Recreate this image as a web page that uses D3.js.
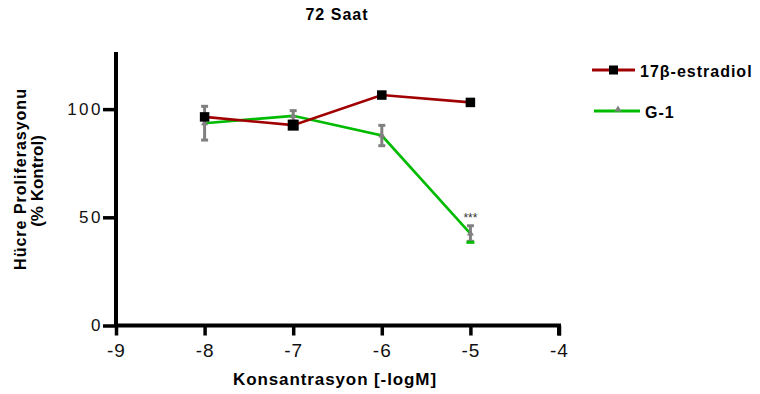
<!DOCTYPE html>
<html><head><meta charset="utf-8">
<script src="https://cdn.jsdelivr.net/npm/d3@7"></script>
<style>body{margin:0;background:#fff}svg{display:block}text{font-family:"Liberation Sans",Arial,sans-serif}</style>
</head><body><svg width="760" height="394"></svg>
<script>
const xValues = [-8, -7, -6, -5];
const estradiolMean = [96.4, 92.6, 106.5, 103.1];
const g1Mean = [93.5, 96.9, 87.8, 42.5];
const g1Err = [7.8, 2.4, 4.7, 3.6];
const xTicks = [-9, -8, -7, -6, -5, -4];
const yTicks = [0, 50, 100];
const seriesNames = ["17β-estradiol", "G-1"];
const significance = ["", "", "", "***"];

const svg = d3.select("svg");
const x = d3.scaleLinear().domain([-9, -4]).range([116, 559]);
const y = d3.scaleLinear().domain([0, 126.4]).range([325.5, 52]);
const red = "#a00000", green = "#00bb00", grey = "#808080";

// axes
const xAxis = svg.append("g").attr("transform", "translate(0,325.5)")
  .call(d3.axisBottom(x).tickValues(xTicks).tickSize(10).tickPadding(8).tickFormat(d => String(d)));
const yAxis = svg.append("g").attr("transform", "translate(116,0)")
  .call(d3.axisLeft(y).tickValues(yTicks).tickSize(13).tickPadding(0));
[xAxis, yAxis].forEach(g => {
  g.select(".domain").attr("stroke", "#000").attr("stroke-width", 4);
  g.selectAll(".tick line").attr("stroke", "#000").attr("stroke-width", 3.5);
  g.selectAll(".tick text").attr("fill", "#111").style("font-family", "Liberation Sans, Arial, sans-serif");
});
xAxis.selectAll(".tick text").style("font-size", "19px").style("letter-spacing", "1px");
yAxis.selectAll(".tick text").style("font-size", "17px").style("letter-spacing", "2.5px");
xAxis.select(".domain").attr("d", `M${x(-9)},0H${x(-4)}V10`);
yAxis.select(".domain").attr("d", `M0,${y(126.4)}V${y(0)}`);

// G-1 line
const line = d3.line().x((d, i) => x(xValues[i])).y(d => y(d));
svg.append("path").datum(g1Mean).attr("d", line).attr("fill", "none").attr("stroke", green).attr("stroke-width", 2.6);
// estradiol line
svg.append("path").datum(estradiolMean).attr("d", line).attr("fill", "none").attr("stroke", red).attr("stroke-width", 2.6);

// G-1 error bars
const eb = svg.append("g").attr("stroke", grey).attr("stroke-width", 3);
g1Mean.forEach((m, i) => {
  const cx = x(xValues[i]);
  eb.append("line").attr("x1", cx).attr("x2", cx).attr("y1", y(m + g1Err[i])).attr("y2", y(m - g1Err[i]));
  [m + g1Err[i], m - g1Err[i]].forEach(v => eb.append("line").attr("x1", cx - 3.5).attr("x2", cx + 3.5).attr("y1", y(v)).attr("y2", y(v)));
  svg.append("path").attr("d", d3.symbol(d3.symbolTriangle, 22)()).attr("transform", `translate(${cx},${y(m)})`).attr("fill", grey);
});
// green base tick under last G-1 point
svg.append("line").attr("x1", x(-5) - 4).attr("x2", x(-5) + 4)
  .attr("y1", y(g1Mean[3] - g1Err[3]) + 1).attr("y2", y(g1Mean[3] - g1Err[3]) + 1)
  .attr("stroke", green).attr("stroke-width", 3);

// estradiol markers
estradiolMean.forEach((m, i) => {
  const s = i === 1 ? 11 : 9.5;
  svg.append("rect").attr("x", x(xValues[i]) - s / 2).attr("y", y(m) - s / 2).attr("width", s).attr("height", s).attr("fill", "#000");
});

// significance
significance.forEach((t, i) => {
  if (t) svg.append("text").attr("x", x(xValues[i])).attr("y", y(g1Mean[i] + g1Err[i]) - 4)
    .attr("text-anchor", "middle").style("font-size", "12px").attr("fill", "#333").text(t);
});

// titles
svg.append("text").attr("x", 337).attr("y", 20).attr("text-anchor", "middle").style("font-size", "16px").style("font-weight", "bold").style("letter-spacing", "1px").text("72 Saat");
svg.append("text").attr("x", 335).attr("y", 385).attr("text-anchor", "middle").style("font-size", "17px").style("font-weight", "bold").style("letter-spacing", "0.9px").text("Konsantrasyon [-logM]");
svg.append("text").attr("transform", "translate(26,179) rotate(-90)").attr("text-anchor", "middle")
  .style("font-weight", "bold").style("font-size", "16px").style("letter-spacing", "1px").text("Hücre Proliferasyonu");
svg.append("text").attr("transform", "translate(43,181) rotate(-90)").attr("text-anchor", "middle")
  .style("font-weight", "bold").style("font-size", "17px").text("(% Kontrol)");

// legend
const lg = [{y: 70, x1: 592, x2: 635, tx: 640, c: red, name: seriesNames[0], sym: "sq"},
            {y: 111, x1: 594, x2: 640, tx: 645, c: green, name: seriesNames[1], sym: "tri"}];
lg.forEach(d => {
  svg.append("line").attr("x1", d.x1).attr("x2", d.x2).attr("y1", d.y).attr("y2", d.y).attr("stroke", d.c).attr("stroke-width", 3);
  if (d.sym === "sq") svg.append("rect").attr("x", 609).attr("y", d.y - 4.5).attr("width", 9).attr("height", 9).attr("fill", "#000");
  else svg.append("path").attr("d", d3.symbol(d3.symbolTriangle, 22)()).attr("transform", `translate(618,${d.y - 1.5})`).attr("fill", grey);
  svg.append("text").attr("x", d.tx).attr("y", d.y + 7).style("font-size", "16px").style("font-weight", "bold").style("letter-spacing", "1px").text(d.name);
});
</script></body></html>
